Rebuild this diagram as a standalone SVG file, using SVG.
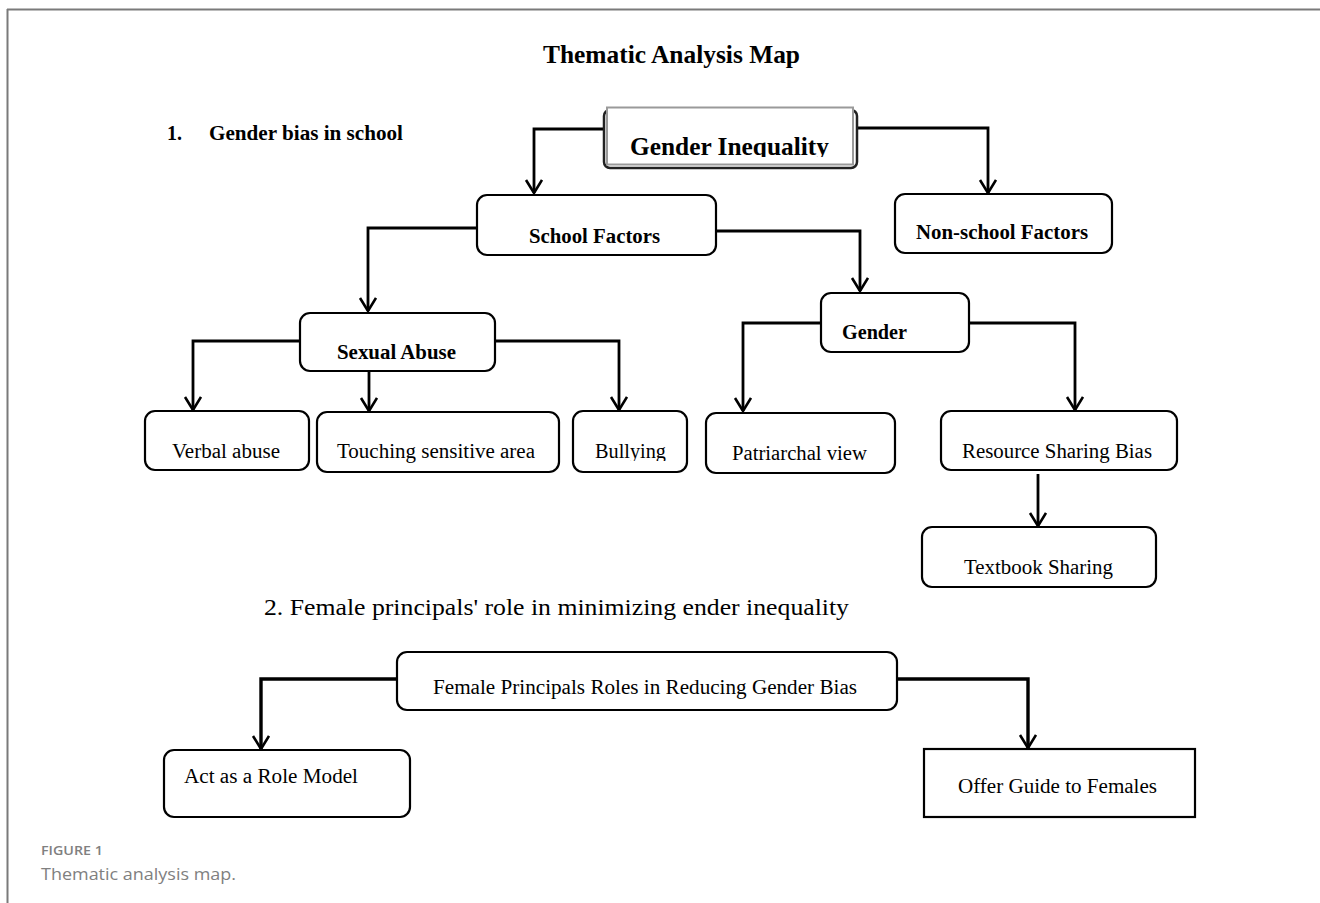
<svg xmlns="http://www.w3.org/2000/svg" width="1320" height="903" viewBox="0 0 1320 903">
<style>
.t{font-family:'Liberation Serif','Times New Roman',Tinos,Times,serif;fill:#000}
.b{font-weight:bold}
.box{fill:#fff;stroke:#000;stroke-width:2.2}
.c{fill:none;stroke:#000;stroke-width:2.8}
.c2{fill:none;stroke:#000;stroke-width:3.4}
.cap{font-family:'Open Sans',Lato,sans-serif;fill:#808080}
</style>
<defs>
<marker id="arr" markerUnits="userSpaceOnUse" markerWidth="24" markerHeight="24" viewBox="0 0 24 24" refX="14" refY="9" orient="auto">
<path d="M1,1 L14,9 L1,17" fill="none" stroke="#000" stroke-width="2.6"/>
</marker>
<clipPath id="clipGI"><rect x="600" y="100" width="260" height="57"/></clipPath>
<clipPath id="clipBul"><rect x="570" y="400" width="120" height="61"/></clipPath>
</defs>
<rect x="0" y="0" width="1320" height="903" fill="#fff"/>
<g id="frame">
<line x1="7" y1="9.5" x2="1320" y2="9.5" stroke="#7a7a7a" stroke-width="2"/>
<line x1="7.5" y1="9" x2="7.5" y2="903" stroke="#7a7a7a" stroke-width="2"/>
</g>
<g id="title">
<text class="t b" x="543" y="63" font-size="25" textLength="257" lengthAdjust="spacingAndGlyphs">Thematic Analysis Map</text>
</g>
<g id="heading1">
<text class="t b" x="167" y="140" font-size="20">1.</text>
<text class="t b" x="209" y="140" font-size="20" textLength="194" lengthAdjust="spacingAndGlyphs">Gender bias in school</text>
</g>
<g id="heading2">
<text class="t" x="264" y="615" font-size="24" textLength="585" lengthAdjust="spacingAndGlyphs">2.  Female principals' role in minimizing ender inequality</text>
</g>
<g id="connectors">
<path class="c" d="M605,129 H534 V193" marker-end="url(#arr)"/>
<path class="c" d="M855,128 H988 V193" marker-end="url(#arr)"/>
<path class="c" d="M477,228 H368 V311" marker-end="url(#arr)"/>
<path class="c" d="M716,231 H860 V291" marker-end="url(#arr)"/>
<path class="c" d="M300,341 H193 V410" marker-end="url(#arr)"/>
<path class="c" d="M369,371 V411" marker-end="url(#arr)"/>
<path class="c" d="M495,341 H619 V410" marker-end="url(#arr)"/>
<path class="c" d="M821,323 H743 V411" marker-end="url(#arr)"/>
<path class="c" d="M969,323 H1075 V410" marker-end="url(#arr)"/>
<path class="c" d="M1038,474 V526" marker-end="url(#arr)"/>
<path class="c2" d="M397,679 H261 V749" marker-end="url(#arr)"/>
<path class="c2" d="M897,679 H1028 V748" marker-end="url(#arr)"/>
</g>
<g id="gender-inequality">
<rect x="604" y="110" width="253" height="58" rx="6" fill="#fff" stroke="#222" stroke-width="2.5"/>
<rect x="607" y="107.5" width="246" height="57" fill="#fff" stroke="#9a9a9a" stroke-width="2"/>
<text class="t b" x="630" y="155" font-size="25" textLength="199" lengthAdjust="spacingAndGlyphs" clip-path="url(#clipGI)">Gender Inequality</text>
</g>
<g id="school-factors">
<rect class="box" x="477" y="195" width="239" height="60" rx="10"/>
<text class="t b" x="529" y="243" font-size="20" textLength="131" lengthAdjust="spacingAndGlyphs">School Factors</text>
</g>
<g id="non-school-factors">
<rect class="box" x="895" y="194" width="217" height="59" rx="10"/>
<text class="t b" x="916" y="239" font-size="20" textLength="172" lengthAdjust="spacingAndGlyphs">Non-school Factors</text>
</g>
<g id="sexual-abuse">
<rect class="box" x="300" y="313" width="195" height="58" rx="10"/>
<text class="t b" x="337" y="359" font-size="20" textLength="119" lengthAdjust="spacingAndGlyphs">Sexual Abuse</text>
</g>
<g id="gender">
<rect class="box" x="821" y="293" width="148" height="59" rx="10"/>
<text class="t b" x="842" y="339" font-size="20" textLength="65" lengthAdjust="spacingAndGlyphs">Gender</text>
</g>
<g id="verbal-abuse">
<rect class="box" x="145" y="411" width="164" height="59" rx="10"/>
<text class="t" x="172" y="458" font-size="20.5" textLength="108" lengthAdjust="spacingAndGlyphs">Verbal abuse</text>
</g>
<g id="touching">
<rect class="box" x="317" y="412" width="242" height="60" rx="10"/>
<text class="t" x="337" y="458" font-size="20.5" textLength="198" lengthAdjust="spacingAndGlyphs">Touching sensitive area</text>
</g>
<g id="bullying">
<rect class="box" x="573" y="411" width="114" height="61" rx="10"/>
<text class="t" x="595" y="458" font-size="20.5" textLength="71" lengthAdjust="spacingAndGlyphs" clip-path="url(#clipBul)">Bullying</text>
</g>
<g id="patriarchal">
<rect class="box" x="706" y="413" width="189" height="60" rx="10"/>
<text class="t" x="732" y="460" font-size="20.5" textLength="135" lengthAdjust="spacingAndGlyphs">Patriarchal view</text>
</g>
<g id="resource-sharing">
<rect class="box" x="941" y="411" width="236" height="59" rx="10"/>
<text class="t" x="962" y="458" font-size="20.5" textLength="190" lengthAdjust="spacingAndGlyphs">Resource Sharing Bias</text>
</g>
<g id="textbook-sharing">
<rect class="box" x="922" y="527" width="234" height="60" rx="10"/>
<text class="t" x="964" y="574" font-size="20.5" textLength="149" lengthAdjust="spacingAndGlyphs">Textbook Sharing</text>
</g>
<g id="female-principals">
<rect class="box" x="397" y="652" width="500" height="58" rx="10"/>
<text class="t" x="433" y="694" font-size="20.5" textLength="424" lengthAdjust="spacingAndGlyphs">Female Principals Roles in Reducing Gender Bias</text>
</g>
<g id="role-model">
<rect class="box" x="164" y="750" width="246" height="67" rx="10"/>
<text class="t" x="184" y="783" font-size="20.5" textLength="174" lengthAdjust="spacingAndGlyphs">Act as a Role Model</text>
</g>
<g id="offer-guide">
<rect class="box" x="924" y="749" width="271" height="68"/>
<text class="t" x="958" y="793" font-size="20.5" textLength="199" lengthAdjust="spacingAndGlyphs">Offer Guide to Females</text>
</g>
<g id="caption">
<text class="cap" x="41" y="855" font-size="13" font-weight="600" textLength="62" lengthAdjust="spacingAndGlyphs">FIGURE 1</text>
<text class="cap" x="41" y="880" font-size="17" textLength="195" lengthAdjust="spacingAndGlyphs">Thematic analysis map.</text>
</g>
</svg>
